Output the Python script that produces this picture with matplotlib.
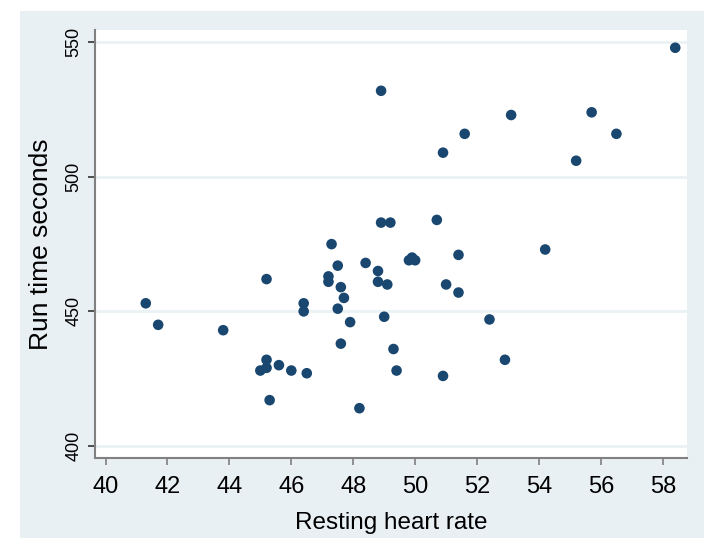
import matplotlib
matplotlib.use("Agg")
import matplotlib.pyplot as plt
from matplotlib.patches import Rectangle

# resting heart rate (x) vs run time in seconds (y)
heart_rate = [41.3, 41.7, 43.8, 45.2, 47.3, 47.5, 48.4, 48.8, 48.8, 49.1,
              47.2, 47.2, 47.6, 47.7, 46.4, 46.4, 47.5, 47.9, 49.0, 47.6,
              45.2, 45.0, 45.2, 45.6, 46.0, 46.5, 45.3, 48.2, 49.8, 49.9,
              50.0, 51.4, 51.0, 51.4, 54.2, 52.4, 49.3, 52.9, 49.4, 50.9,
              48.9, 48.9, 49.2, 58.4, 53.1, 55.7, 51.6, 56.5, 50.9, 55.2,
              50.7]
run_time = [453, 445, 443, 462, 475, 467, 468, 465, 461, 460,
            463, 461, 459, 455, 453, 450, 451, 446, 448, 438,
            432, 428, 429, 430, 428, 427, 417, 414, 469, 470,
            469, 471, 460, 457, 473, 447, 436, 432, 428, 426,
            532, 483, 483, 548, 523, 524, 516, 516, 509, 506,
            484]

x_ticks = [40, 42, 44, 46, 48, 50, 52, 54, 56, 58]
y_ticks = [400, 450, 500, 550]

W, H = 709, 538
plt.rcParams["font.family"] = ["Liberation Sans", "DejaVu Sans"]

fig = plt.figure(figsize=(W / 100, H / 100), dpi=100)
fig.patch.set_facecolor("white")

# Stata-like graph region
fig.patches.append(Rectangle((20 / W, 0), 684 / W, 1 - 11 / H,
                             transform=fig.transFigure,
                             facecolor="#E9F0F3", edgecolor="none",
                             zorder=-10))

ax = fig.add_axes([95 / W, 1 - 457.7 / H, (687 - 95) / W, (457.7 - 30) / H])
ax.set_zorder(5)
ax.set_facecolor("white")

for yv in y_ticks:
    ax.axhline(yv, color="#EAF2F3", lw=2, zorder=1)

ax.scatter(heart_rate, run_time, s=58, color="#1A476F",
           edgecolors="none", zorder=3)

ax.set_xlim(39.66, 58.78)
ax.set_ylim(395.6, 554.6)
ax.set_xticks(x_ticks)
ax.set_yticks(y_ticks)
ax.tick_params(axis="x", labelsize=17, length=5, width=1.2,
               color="#7F7F7F", pad=8)
ax.tick_params(axis="y", labelsize=13, length=5, width=1.2,
               color="#333333", pad=4)
for lab in ax.get_yticklabels():
    lab.set_rotation(90)
    lab.set_va("center")

for side in ["top", "right"]:
    ax.spines[side].set_visible(False)
for side in ["left", "bottom"]:
    ax.spines[side].set_color("#808080")
    ax.spines[side].set_linewidth(1.5)

ax.set_xlabel("Resting heart rate", fontsize=17.5, labelpad=10)
ax.set_ylabel("Run time seconds", fontsize=19, labelpad=9)

fig.savefig("out.png", dpi=100)
plt.close(fig)
